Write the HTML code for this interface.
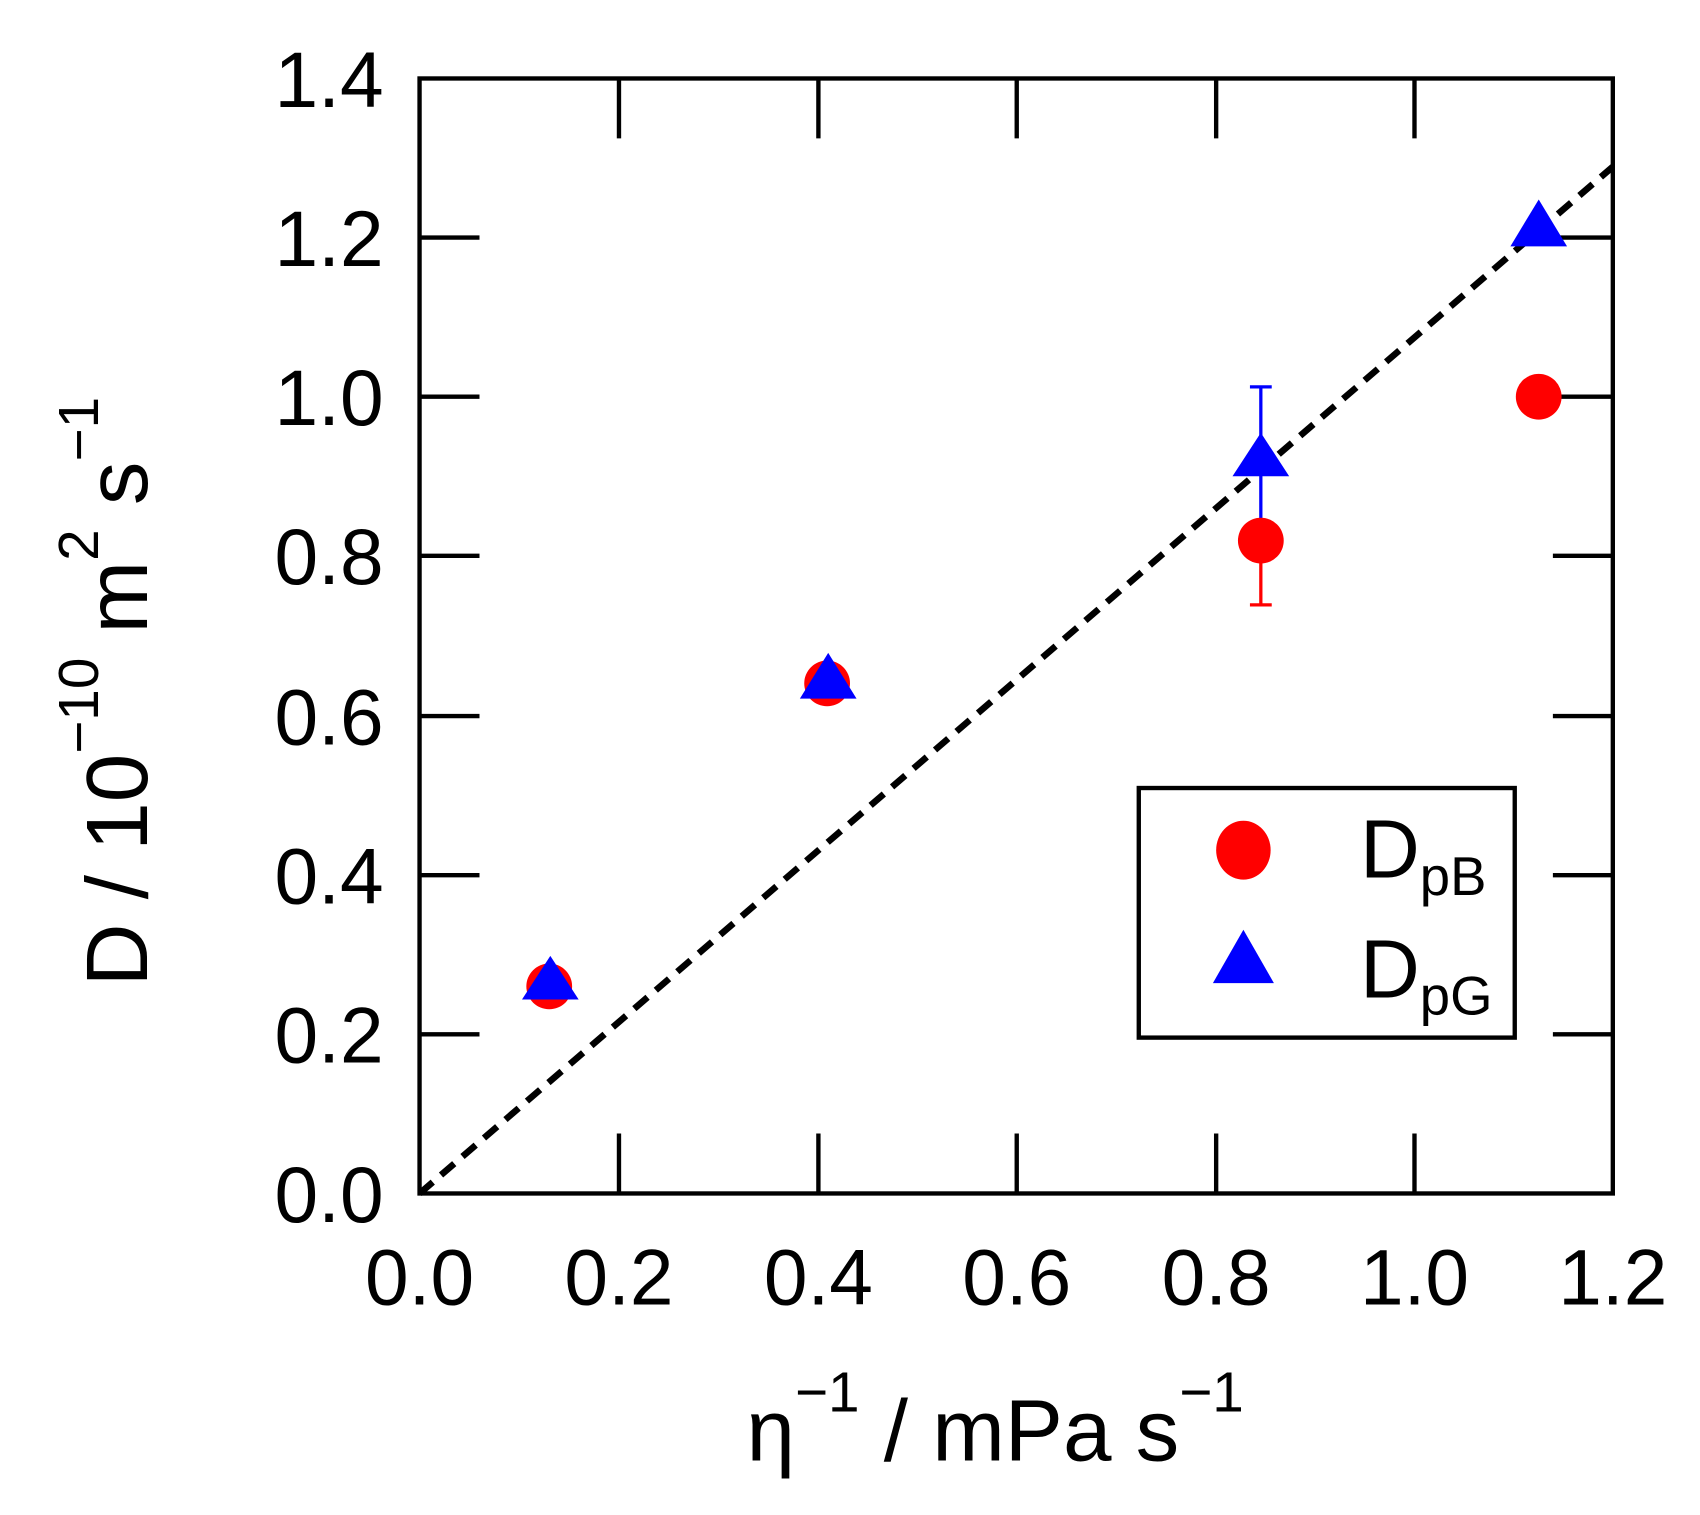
<!DOCTYPE html>
<html><head><meta charset="utf-8"><style>html,body{margin:0;padding:0;background:#fff;}svg{display:block}</style></head>
<body>
<svg width="1700" height="1515" viewBox="0 0 1560 1390" preserveAspectRatio="none" xmlns="http://www.w3.org/2000/svg" font-family="Liberation Sans, Arial, sans-serif">
<rect width="1560" height="1390" fill="#fff"/>
<g stroke="#000" stroke-width="4" fill="none">
<rect x="385" y="72" width="1095" height="1023"/>
<path d="M568 1095V1040M751 1095V1040M933 1095V1040M1116 1095V1040M1298 1095V1040
M568 72V127M751 72V127M933 72V127M1116 72V127M1298 72V127
M385 949H440M385 803H440M385 657H440M385 510H440M385 364H440M385 218H440
M1480 949H1425M1480 803H1425M1480 657H1425M1480 510H1425M1480 364H1425M1480 218H1425"/>
</g>
<line x1="385" y1="1095" x2="1480" y2="153" stroke="#000" stroke-width="6" stroke-dasharray="16,10"/>
<g font-size="72" fill="#000" text-anchor="end">
<text x="352" y="1121">0.0</text><text x="352" y="975">0.2</text><text x="352" y="829">0.4</text>
<text x="352" y="683">0.6</text><text x="352" y="536">0.8</text><text x="352" y="390">1.0</text>
<text x="352" y="244">1.2</text><text x="352" y="98">1.4</text>
</g>
<g font-size="72" fill="#000" text-anchor="middle">
<text x="385" y="1197">0.0</text><text x="568" y="1197">0.2</text><text x="751" y="1197">0.4</text>
<text x="933" y="1197">0.6</text><text x="1116" y="1197">0.8</text><text x="1298" y="1197">1.0</text>
<text x="1480" y="1197">1.2</text>
</g>
<text x="685" y="1340" font-size="80" fill="#000">η<tspan dy="-45" font-size="52">−1</tspan><tspan dy="45"> / mPa s</tspan><tspan dy="-45" font-size="52">−1</tspan></text>
<text transform="translate(135,905) rotate(-90)" font-size="80" fill="#000">D / 10<tspan dy="-45" font-size="52">−10</tspan><tspan dy="45"> m</tspan><tspan dy="-45" font-size="52">2</tspan><tspan dy="45"> s</tspan><tspan dy="-45" font-size="52">−1</tspan></text>
<g stroke="#f00" stroke-width="3"><path d="M1157 495V555M1147 555H1167"/></g>
<g stroke="#00f" stroke-width="3"><path d="M1157 355V489M1147 355H1167M1147 489H1167"/></g>
<g fill="#f00">
<circle cx="504" cy="905" r="21"/><circle cx="759" cy="627" r="21"/>
<circle cx="1157" cy="496" r="21"/><circle cx="1412" cy="364" r="21"/>
</g>
<g fill="#00f">
<polygon points="505,877 479,917 531,917"/>
<polygon points="760,599 734,641 786,641"/>
<polygon points="1157,397 1131,437 1183,437"/>
<polygon points="1412,183 1386,226 1438,226"/>
</g>
<rect x="1045" y="723" width="345" height="229" fill="#fff" stroke="#000" stroke-width="4"/>
<ellipse cx="1141" cy="780" rx="25" ry="27" fill="#f00"/>
<polygon points="1141,853 1113,902 1169,902" fill="#00f"/>
<text x="1248" y="805" font-size="76" fill="#000">D<tspan dy="16" font-size="50">pB</tspan></text>
<text x="1248" y="915" font-size="76" fill="#000">D<tspan dy="16" font-size="50">pG</tspan></text>
</svg>
</body></html>
